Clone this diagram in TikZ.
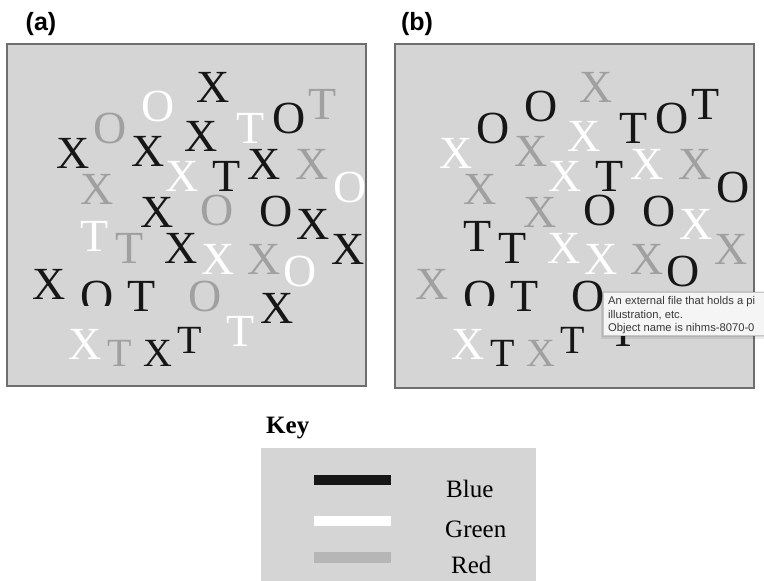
\documentclass[tikz,border=0pt]{standalone}
\usepackage{fontspec}
\setmainfont{Liberation Serif}
\newfontfamily\lsans{Liberation Sans}
\definecolor{cK}{HTML}{161616}
\definecolor{cW}{HTML}{FFFFFF}
\definecolor{cG}{HTML}{A0A0A0}
\definecolor{panelbg}{HTML}{D5D5D5}
\definecolor{panelline}{HTML}{6E6E6E}
\definecolor{barG}{HTML}{B6B6B6}
\tikzset{
  ltrL/.style={inner sep=0pt, anchor=base, font=\fontsize{46}{46}\selectfont, yshift=-15.2pt},
  ltrS/.style={inner sep=0pt, anchor=base, font=\fontsize{40}{40}\selectfont, yshift=-13.2pt},
  panelbox/.style={fill=panelbg, draw=panelline, line width=1.2pt},
  plabel/.style={inner sep=0pt, anchor=base, font=\lsans\bfseries\fontsize{25}{25}\selectfont},
  keytext/.style={inner sep=0pt, anchor=base west, font=\fontsize{25}{25}\selectfont},
  tiptext/.style={inner sep=0pt, anchor=base west, text=black!78, font=\lsans\fontsize{11.2}{11.2}\selectfont},
}
\newcommand\letterlist{1/213/87/X/L/K/G, 2/158/106/O/L/W/K, 3/323/104/T/L/G/K,
  4/289/118/O/L/K/K, 5/251/128/T/L/W/K, 6/110/128/O/L/G/K, 7/73/153/X/L/K/W,
  8/148/151/X/L/K/G, 9/201/136/X/L/K/W, 10/182/176/X/L/W/W, 11/227/176/T/L/K/K,
  12/264/164/X/L/K/W, 13/312/164/X/L/G/G, 14/350/187/O/L/W/K, 15/97/189/X/L/G/G,
  16/157/212/X/L/K/G, 17/217/210/O/L/G/K, 18/276/211/O/L/K/K, 19/313/224/X/L/K/W,
  20/348/249/X/L/K/G, 21/95/236/T/L/W/K, 22/130/248/T/L/G/K, 23/181/248/X/L/K/W,
  24/218/259/X/L/W/W, 25/264/259/X/L/G/G, 26/300/271/O/L/W/K, 27/49/284/X/L/K/G,
  29/142/296/T/L/K/K, 30/205/296/O/L/G/K, 31/277/308/X/L/K/K, 32/241/331/T/L/W/K,
  33/85/344/X/L/W/W, 34/120/353/T/S/G/K, 35/158/353/X/S/K/G, 36/190/340/T/S/K/K}
\begin{document}
\begin{tikzpicture}[x=1pt,y=-1pt]
\useasboundingbox (0,0) rectangle (764,581);
\fill[white] (0,0) rectangle (764,581);
% panel labels
\node[plabel] (la) at (41,30) {(a)};
\node[plabel] (lb) at (417,30) {(b)};
% panels
\draw[panelbox] (7,44) rectangle (366,386);
\draw[panelbox] (395,44) rectangle (754,388);
% panel (a) letters
\begin{scope}
\clip (7.6,44.6) rectangle (365.4,385.4);
\foreach \n/\x/\y/\l/\s/\ca/\cb in \letterlist {
  \node[ltr\s, text=c\ca] (a\n) at (\x,\y) {\l};
}
\begin{scope}
\clip (0,0) rectangle (764,305);
\node[ltrL, text=cK] (a28) at (97,296) {O};
\end{scope}
\end{scope}
% panel (b) letters
\begin{scope}
\clip (395.6,44.6) rectangle (753.4,387.4);
\begin{scope}[xshift=383pt]
\foreach \n/\x/\y/\l/\s/\ca/\cb in \letterlist {
  \node[ltr\s, text=c\cb] (b\n) at (\x,\y) {\l};
}
\begin{scope}
\clip (0,0) rectangle (764,305);
\node[ltrL, text=cK] (b28) at (97,296) {O};
\end{scope}
\end{scope}
\end{scope}
% tooltip
\fill[black, opacity=0.08] (601,291) rectangle (770,339);
\fill[black, opacity=0.08] (602,292) rectangle (770,337);
\draw[draw=black!22, fill=black!4, line width=0.6pt] (603,292) rectangle (770,335);
\node[tiptext] (tt1) at (608,304) {An external file that holds a pi};
\node[tiptext] (tt2) at (608,318) {illustration, etc.};
\node[tiptext] (tt3) at (608,331.5) {Object name is nihms-8070-0};
% key
\node[keytext, font=\bfseries\fontsize{25}{25}\selectfont] (keytitle) at (266,433) {Key};
\fill[panelbg] (261,448) rectangle (536,581);
\fill[cK] (314,475) rectangle (391,485);
\fill[cW] (314,516) rectangle (391,526);
\fill[barG] (314,552) rectangle (391,563);
\node[keytext] (kblue) at (446,497) {Blue};
\node[keytext] (kgreen) at (445,537) {Green};
\node[keytext] (kred) at (451,573) {Red};
\end{tikzpicture}
\end{document}
